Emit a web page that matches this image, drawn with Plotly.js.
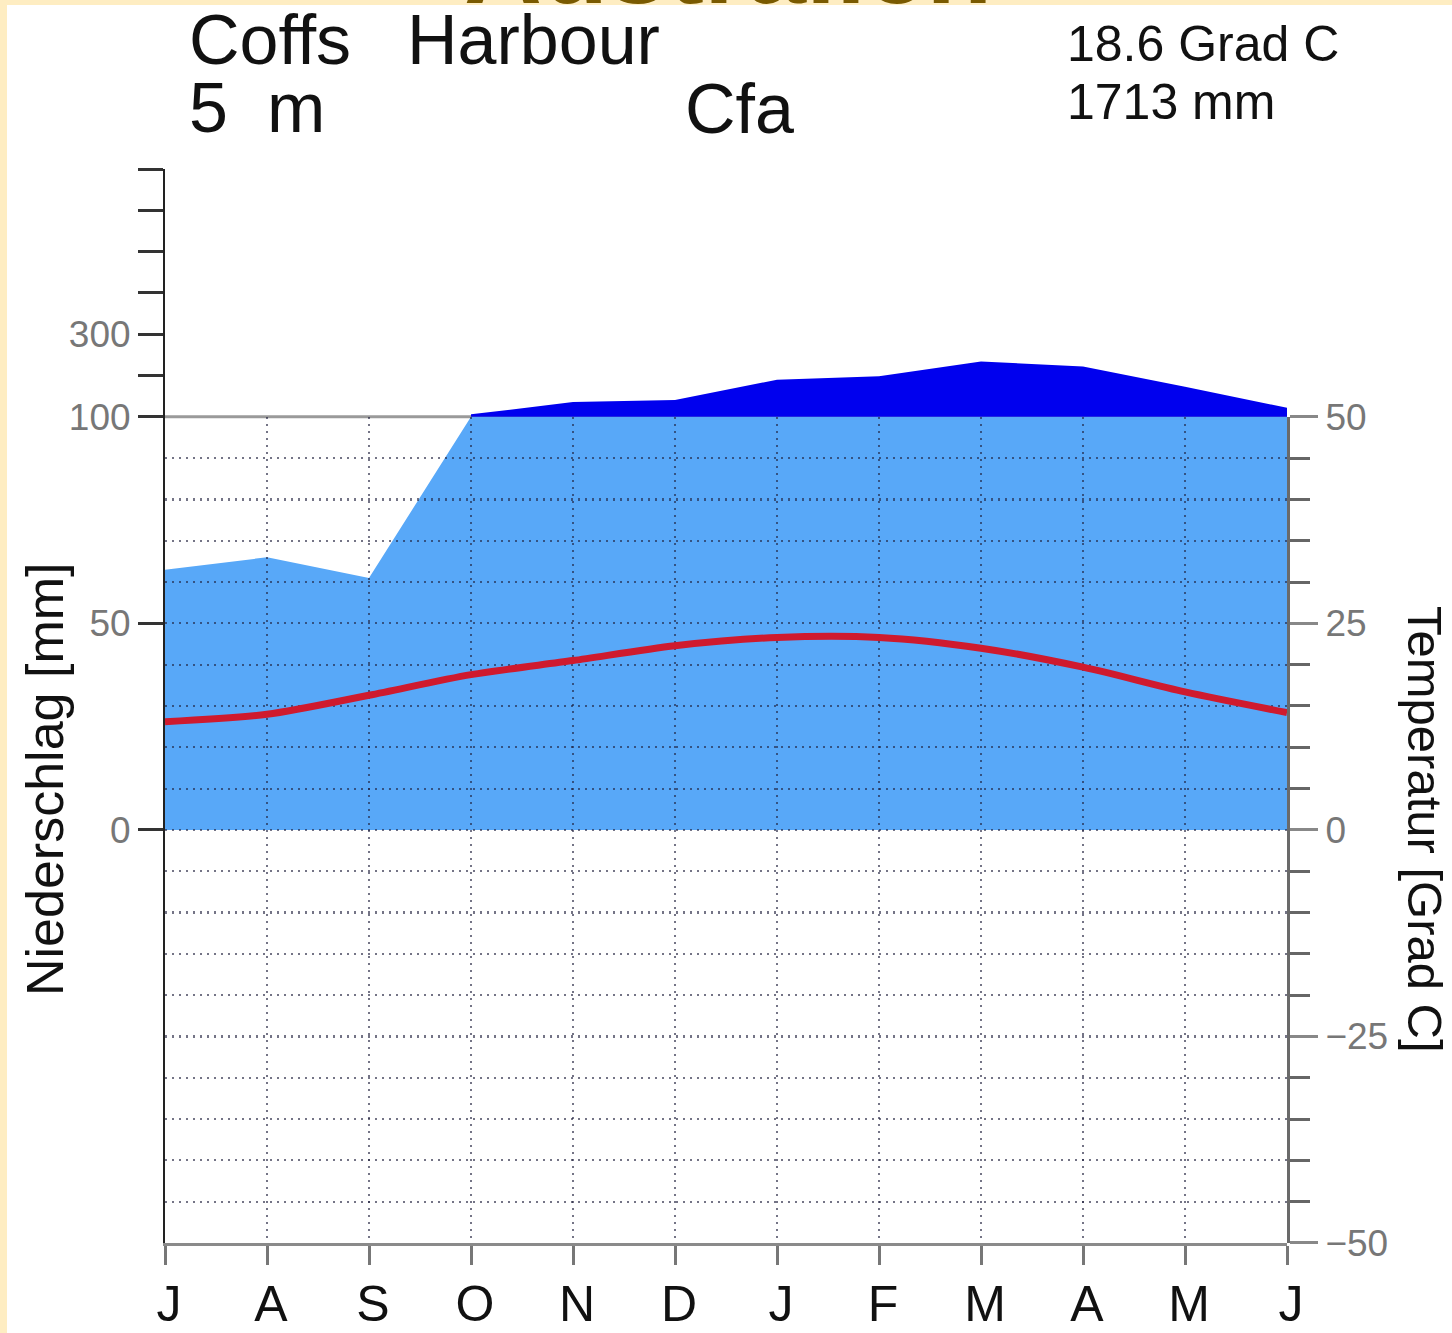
<!DOCTYPE html>
<html>
<head>
<meta charset="utf-8">
<script src="https://cdn.plot.ly/plotly-3.0.1.min.js"></script>
<style>
html,body{margin:0;padding:0;background:#fff;}
#chart{width:1452px;height:1333px;}
</style>
</head>
<body>
<div id="chart"></div>
<script>
// ---- data ----
const months = ['J','A','S','O','N','D','J','F','M','A','M','J'];
const precipMm = [63, 66, 61, 106, 136, 141, 190, 198, 234, 222, 173, 122];
const tempC = [13.1, 14.0, 16.3, 18.8, 20.5, 22.3, 23.3, 23.3, 22.0, 19.7, 16.7, 14.2];
const stationName = ['Coffs', 'Harbour'];
const elevation = ['5', 'm'];
const climateClass = 'Cfa';
const meanTempText = '18.6 Grad C';
const totalPrecipText = '1713 mm';
const regionTitle = 'Australien';

// ---- layout geometry (pixels of the 1452x1333 page) ----
const W = 1452, Hpx = 1333;
const mL = 165, mR = 165, mT = 169, mB = 90;
const plotW = W - mL - mR, plotH = Hpx - mT - mB;
const px2x = px => (px - mL) / plotW;
const py2y = py => (Hpx - mB - py) / plotH;

// Walter-Lieth scale: 10 mm = 5 units up to 100 mm, above that 100 mm = 5 units
const toScale = p => p <= 100 ? p / 2 : 50 + (p - 100) / 20;
const idx = months.map((_, i) => i);
const lightY = precipMm.map(p => Math.min(p, 100) / 2);
const wetIdx = idx.filter(i => precipMm[i] >= 100);
const wetBase = wetIdx.map(() => toScale(100));
const wetTop = wetIdx.map(i => toScale(precipMm[i]));

const font = 'Liberation Sans, Arial, sans-serif';
const gridCol = 'rgba(30,30,60,0.62)';
const gridDash = '2px,5px';

const traces = [
  {x: idx, y: lightY, xaxis: 'x', yaxis: 'y', mode: 'lines', fill: 'tozeroy',
   fillcolor: '#58A8F8', line: {width: 0, color: '#58A8F8'}, hoverinfo: 'skip'},
  {x: wetIdx, y: wetBase, xaxis: 'x', yaxis: 'y', mode: 'lines',
   line: {width: 0, color: '#0000EE'}, hoverinfo: 'skip'},
  {x: wetIdx, y: wetTop, xaxis: 'x', yaxis: 'y', mode: 'lines', fill: 'tonexty',
   fillcolor: '#0000EE', line: {width: 0, color: '#0000EE'}, hoverinfo: 'skip'},
  {x: idx, y: tempC, xaxis: 'x2', yaxis: 'y2', mode: 'lines',
   line: {color: '#CF1A2E', width: 7, shape: 'spline', smoothing: 0.8}, hoverinfo: 'skip'}
];

const ann = (text, xp, yp, size, opts) => Object.assign({
  text: text, x: px2x(xp), y: py2y(yp), xref: 'paper', yref: 'paper',
  showarrow: false, xanchor: 'left', yanchor: 'middle',
  font: {family: font, size: size, color: '#111'}
}, opts || {});

const layout = {
  width: W, height: Hpx,
  margin: {l: mL, r: mR, t: mT, b: mB, pad: 0},
  paper_bgcolor: '#ffffff',
  plot_bgcolor: 'rgba(0,0,0,0)',
  showlegend: false,
  font: {family: font},
  xaxis: {
    domain: [0, 1], range: [0, 11], anchor: 'y',
    tickmode: 'array', tickvals: idx, ticktext: months,
    ticks: 'outside', ticklen: 19, tickwidth: 3, tickcolor: '#777',
    showline: true, linecolor: '#8a8a8a', linewidth: 3,
    showgrid: false, zeroline: false, ticklabelshift: 4, ticklabelstandoff: -4,
    tickfont: {family: font, size: 50, color: '#111'}, fixedrange: true
  },
  yaxis: {
    domain: [0, 1], range: [-50, 80], anchor: 'x', side: 'left',
    tickmode: 'array', tickvals: [0, 25, 50, 55, 60, 65, 70, 75, 80],
    ticktext: ['0', '50', '100', '', '300', '', '', '', ''],
    ticks: 'outside', ticklen: 25, tickwidth: 3, tickcolor: '#333',
    showline: true, linecolor: '#222', linewidth: 2,
    showgrid: false, zeroline: false,
    tickfont: {family: font, size: 37, color: '#777'}, fixedrange: true
  },
  xaxis2: {
    domain: [0, 1], range: [0, 11], anchor: 'y2',
    tickmode: 'linear', tick0: 0, dtick: 1, showticklabels: false, ticks: '',
    showline: false, zeroline: false,
    showgrid: true, gridcolor: gridCol, gridwidth: 2.2, griddash: gridDash, fixedrange: true
  },
  yaxis2: {
    domain: [0, 100 / 130], range: [-50, 50], anchor: 'x2', side: 'right',
    tickmode: 'linear', tick0: 0, dtick: 25,
    ticks: 'outside', ticklen: 28, tickwidth: 3, tickcolor: '#888',
    tickfont: {family: font, size: 37, color: '#777'},
    showline: true, linecolor: '#6a6a6a', linewidth: 3, zeroline: false,
    showgrid: true, gridcolor: gridCol, gridwidth: 2.2, griddash: gridDash,
    minor: {tickmode: 'linear', tick0: 0, dtick: 5, ticks: 'outside', ticklen: 20,
            tickwidth: 3, tickcolor: '#666',
            showgrid: true, gridcolor: gridCol, gridwidth: 2.2, griddash: gridDash},
    fixedrange: true
  },
  shapes: [
    {type: 'line', xref: 'x', yref: 'y', x0: 0, x1: 11, y0: 50, y1: 50,
     line: {color: '#9a9a9a', width: 3}, layer: 'below'},
    {type: 'rect', xref: 'paper', yref: 'paper', x0: px2x(0), x1: px2x(7), y0: py2y(Hpx), y1: py2y(0),
     fillcolor: '#FEEDC2', line: {width: 0}, layer: 'above'},
    {type: 'rect', xref: 'paper', yref: 'paper', x0: px2x(0), x1: px2x(W), y0: py2y(5), y1: py2y(0),
     fillcolor: '#FEEDC2', line: {width: 0}, layer: 'above'}
  ],
  annotations: [
    ann(regionTitle, 728, 28, 108, {xanchor: 'center', yanchor: 'bottom',
        font: {family: font, size: 108, color: '#7A5A00', weight: 'bold'}}),
    ann(stationName[0], 187, 40, 70),
    ann(stationName[1], 405, 40, 70),
    ann(elevation[0], 187, 108, 70),
    ann(elevation[1], 265, 108, 70),
    ann(climateClass, 683, 109, 70),
    ann(meanTempText, 1065, 43.5, 50),
    ann(totalPrecipText, 1065, 101.5, 50),
    ann('Niederschlag [mm]', 45, 780, 52, {xanchor: 'center', textangle: -90}),
    ann('Temperatur [Grad C]', 1425, 829, 49, {xanchor: 'center', textangle: 90})
  ]
};

Plotly.newPlot('chart', traces, layout, {displayModeBar: false, staticPlot: true});
</script>
</body>
</html>
